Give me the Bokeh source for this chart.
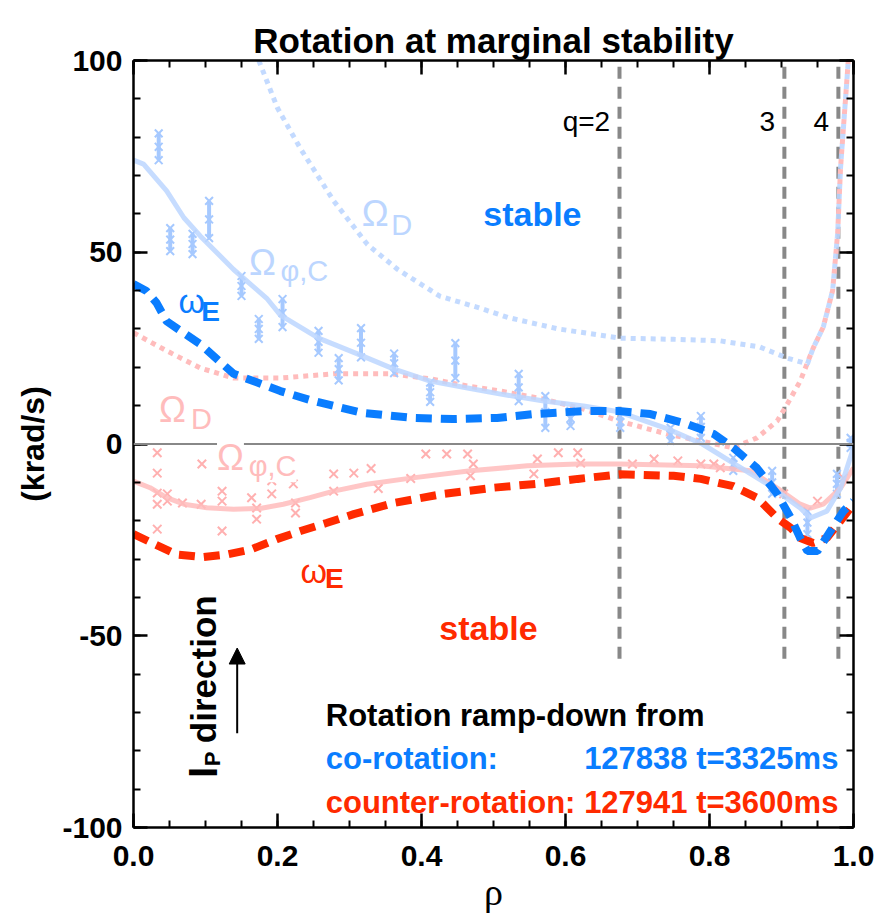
import math
from bokeh.plotting import figure
from bokeh.models import (Range1d, LinearAxis, SingleIntervalTicker, NumeralTickFormatter,
                          CustomJSTickFormatter, Label, Arrow, NormalHead, Span)
from bokeh.embed import file_html
from bokeh.resources import INLINE

# ---------------- data ----------------
# co-rotation (blue) curves
bD_rho = [0.174, 0.2, 0.232, 0.278, 0.325, 0.367, 0.426, 0.48, 0.52, 0.59, 0.676, 0.75, 0.815, 0.87, 0.908, 0.936,
          0.944, 0.958, 0.971, 0.978, 0.982, 0.992, 0.996]
bD_val = [100, 87.6, 77, 63.4, 52, 45.5, 38.5, 35.5, 33, 30, 27.6, 27.3, 26.9, 25.3, 22.4, 20.9,
          25, 30.5, 40, 55, 72, 98, 110]

bC_rho = [0, 0.014, 0.046, 0.07, 0.093, 0.139, 0.185, 0.204, 0.257, 0.311, 0.361, 0.412, 0.464, 0.51, 0.57,
          0.625, 0.674, 0.741, 0.79, 0.833, 0.88, 0.926, 0.94, 0.963, 0.982, 1.0]
bC_val = [74, 73, 66, 59, 54.2, 45.5, 38, 33.6, 27.6, 23.5, 19.6, 16.4, 14.6, 13, 11.2,
          9.9, 8.4, 4, 0, -5, -10.4, -16.7, -19.3, -17.5, -11.5, -1]

bE_rho = [0, 0.018, 0.032, 0.046, 0.093, 0.139, 0.204, 0.25, 0.319, 0.389, 0.444, 0.505, 0.556, 0.625, 0.674,
          0.718, 0.764, 0.806, 0.833, 0.866, 0.894, 0.913, 0.926, 0.936, 0.95, 0.968, 0.986, 1.0]
bE_val = [41.7, 39.9, 36.8, 32, 26, 18.3, 13.8, 11.2, 8.1, 6.8, 6.5, 6.8, 7.8, 8.6, 8.6,
          7.8, 5.5, 2.6, -1, -6.3, -13, -19.3, -24.5, -27.9, -27.9, -22.7, -17.5, -14.9]

# counter-rotation (red) curves
rD_rho = [0, 0.046, 0.093, 0.139, 0.185, 0.204, 0.278, 0.357, 0.412, 0.464, 0.51, 0.57, 0.625, 0.674, 0.741,
          0.787, 0.833, 0.866, 0.894, 0.908, 0.926, 0.944, 0.958, 0.971, 0.978, 0.982, 0.992, 0.996]
rD_val = [29, 24.3, 19.8, 17.2, 17.2, 17.2, 18.3, 18.3, 17, 15.1, 13.8, 11.7, 9.1, 6, 2.6,
          0.8, -1, 1.6, 6, 10.4, 16.4, 25, 30.5, 40, 55, 72, 98, 110]

rC_rho = [0, 0.023, 0.046, 0.07, 0.102, 0.139, 0.176, 0.208, 0.245, 0.278, 0.324, 0.385, 0.468, 0.547, 0.617,
          0.676, 0.788, 0.815, 0.857, 0.894, 0.926, 0.94, 0.958, 0.982, 1.0]
rC_val = [-9.7, -11.4, -14, -15.7, -16.6, -17, -16.8, -15.7, -14, -12.3, -10.5, -8.9, -7, -5.7, -5.2,
          -5.2, -5.7, -6.2, -7, -11.5, -15.7, -16.7, -15.7, -11.5, -6.2]

rE_rho = [0, 0.028, 0.06, 0.097, 0.13, 0.163, 0.199, 0.232, 0.268, 0.306, 0.361, 0.431, 0.5, 0.57, 0.617,
          0.676, 0.75, 0.788, 0.833, 0.866, 0.894, 0.913, 0.926, 0.944, 0.963, 0.982, 1.0]
rE_val = [-23.5, -26, -28.8, -29.5, -28.8, -27.5, -24.8, -22.7, -20.6, -18.3, -15.4, -13, -11.4, -10.2, -9.1,
          -7.9, -8.3, -9.1, -11, -14, -19.3, -21.9, -24.5, -25.8, -24.5, -20, -15.7]

# measured points
bP_rho = [0.035, 0.051, 0.082, 0.105, 0.15, 0.174, 0.207, 0.257, 0.285, 0.316, 0.362, 0.412, 0.447, 0.535,
          0.572, 0.607, 0.676, 0.746, 0.788, 0.833, 0.887, 0.936, 0.977, 0.996]
bP_lo = [74, 50.3, 49.5, 53.7, 38.6, 27.4, 30.5, 23.8, 16.6, 22.6, 18.5, 11, 17.2, 11.2,
         4.2, 4.7, 4.2, 0.8, 1.6, -7, -13, -23.5, -13, -1]
bP_hi = [81, 56.3, 54.8, 63.4, 43.8, 32.6, 37.8, 29.5, 22.4, 30.2, 23.6, 16, 26.3, 18.3,
         12.5, 8.6, 7.3, 4.2, 7.3, -3.6, -7, -17.5, -7.8, 1.6]

rP_rho = [0.033, 0.033, 0.033, 0.033, 0.033, 0.047, 0.047, 0.068, 0.095, 0.094, 0.123, 0.123, 0.123,
          0.164, 0.171, 0.171, 0.192, 0.192, 0.222, 0.225, 0.225, 0.278, 0.278, 0.306, 0.33, 0.34,
          0.385, 0.406, 0.435, 0.464, 0.472, 0.468, 0.561, 0.556, 0.59, 0.617, 0.621, 0.693, 0.723,
          0.756, 0.788, 0.806, 0.815, 0.903, 0.95, 0.986]
rP_val = [-2.3, -7.6, -12.8, -15.7, -22.2, -13, -14.9, -15.4, -5.2, -15.7, -12.3, -14.9, -22.7,
          -14, -16.7, -19.6, -9.6, -13, -10.4, -15.4, -18, -7.8, -12.3, -7.6, -6.4, -11.6,
          -9, -2.6, -2.6, -2.6, -5.2, -8.3, -3.9, -7.8, -2.3, -2.3, -5, -5.2, -3.9,
          -4.4, -5.2, -5.2, -6.2, -13, -14.9, -8.9]

# rational surfaces
q_rho = [0.675, 0.904, 0.979]
q_labels = ["q=2", "3", "4"]
q_bottom = -56

# ---------------- styles ----------------
LB = "#bcd6ff"   # light blue
LBM = "#a6c9ff"
BB = "#0a7dff"   # bold blue
LR = "#ffbcbc"   # light red
LRM = "#ffb0b0"
BR = "#ff2a00"   # bold red
GR = "#888888"
FONT = "Liberation Sans"

p = figure(width=878, height=918, output_backend="svg", toolbar_location=None,
           x_range=Range1d(0, 1), y_range=Range1d(-100, 100),
           min_border_left=133, min_border_right=25, min_border_top=60, min_border_bottom=91,
           x_axis_label="ρ", y_axis_label="(krad/s)", title="Rotation at marginal stability")
p.grid.visible = False
p.outline_line_color = None
p.background_fill_color = "white"
p.border_fill_color = "white"

p.title.text_font = FONT
p.title.text_font_size = "35px"
p.title.text_font_style = "bold"
p.title.text_color = "black"
p.title.align = "center"
p.title.standoff = 2

p.xaxis.ticker = SingleIntervalTicker(interval=0.2, num_minor_ticks=4)
p.yaxis.ticker = SingleIntervalTicker(interval=50, num_minor_ticks=5)
p.xaxis.formatter = NumeralTickFormatter(format="0.0")
p.yaxis.formatter = CustomJSTickFormatter(code="return tick < 0 ? '-' + Math.abs(tick) : '' + tick;")

def style_axis(ax, labels=True):
    ax.axis_line_color = "black"
    ax.axis_line_width = 2.5
    ax.major_tick_in = 14
    ax.major_tick_out = 0
    ax.minor_tick_in = 7
    ax.minor_tick_out = 0
    ax.major_tick_line_width = 2.5
    ax.minor_tick_line_width = 2
    ax.major_tick_line_color = "black"
    ax.minor_tick_line_color = "black"
    ax.major_label_text_font = FONT
    ax.major_label_text_font_size = "30px"
    ax.major_label_text_font_style = "bold"
    ax.major_label_text_color = "black"
    ax.axis_label_text_color = "black"
    if not labels:
        ax.formatter = CustomJSTickFormatter(code="return '';")
        ax.major_label_standoff = 0

for ax in p.xaxis + p.yaxis:
    style_axis(ax)
p.xaxis.major_label_standoff = 18
p.yaxis.major_label_standoff = 11
p.xaxis.axis_label_text_font = "Liberation Serif"
p.xaxis.axis_label_text_font_size = "38px"
p.xaxis.axis_label_text_font_style = "normal"
p.xaxis.axis_label_standoff = 2
p.yaxis.axis_label_text_font = FONT
p.yaxis.axis_label_text_font_size = "32px"
p.yaxis.axis_label_text_font_style = "bold"
p.yaxis.axis_label_standoff = 8

ax_top = LinearAxis(ticker=SingleIntervalTicker(interval=0.2, num_minor_ticks=4))
ax_right = LinearAxis(ticker=SingleIntervalTicker(interval=50, num_minor_ticks=5))
style_axis(ax_top, labels=False)
style_axis(ax_right, labels=False)
p.add_layout(ax_top, "above")
p.add_layout(ax_right, "right")

# zero line
p.add_layout(Span(location=0, dimension="width", line_color=GR, line_width=2))

# rational surface lines
p.segment(x0=q_rho, y0=[q_bottom] * 3, x1=q_rho, y1=[100] * 3,
          line_color=GR, line_width=4, line_dash="12 8")

# dotted Omega_D curves
p.line(rD_rho, rD_val, line_color=LR, line_width=5, line_dash="5 5")
p.line(bD_rho, bD_val, line_color=LB, line_width=5, line_dash="5 5", line_alpha=0.9)

# measured points
p.scatter(rP_rho, rP_val, marker="x", size=12, line_color=LRM, line_width=2)
p.segment(x0=bP_rho, y0=bP_lo, x1=bP_rho, y1=bP_hi, line_color=LBM, line_width=4)
bP_mid = [(a + b) / 2 for a, b in zip(bP_lo, bP_hi)]
p.scatter(bP_rho + bP_rho + bP_rho, bP_lo + bP_hi + bP_mid, marker="x", size=11, line_color=LBM, line_width=2)

# solid Omega_phi,C fits
p.line(rC_rho, rC_val, line_color=LR, line_width=5, line_alpha=0.85)
p.line(bC_rho, bC_val, line_color=LB, line_width=5, line_alpha=0.85)

# dashed omega_E
p.line(rE_rho, rE_val, line_color=BR, line_width=8, line_dash="16 9")
p.line(bE_rho, bE_val, line_color=BB, line_width=8, line_dash="16 9")

def lab(x, y, text, color, size, style="normal", align="left", font=FONT, bg=None, angle=0.0):
    l = Label(x=x, y=y, text=text, text_color=color, text_font_size=size, text_font_style=style,
              text_align=align, text_baseline="alphabetic", text_font=font, angle=angle)
    if bg:
        l.background_fill_color = bg
    p.add_layout(l)

# q labels
for r, t in zip(q_rho, q_labels):
    lab(r - 0.013, 84.2, t, "black", "28px", align="right")

# curve labels (blue)
lab(0.317, 60, "Ω", LB, "36px")
lab(0.358, 57.2, "D", LB, "29px")
lab(0.1605, 47.2, "Ω", LB, "36px")
lab(0.204, 45.0, "φ,C", LB, "29px")
lab(0.0625, 37.3, "ω", BB, "34px")
lab(0.094, 34.5, "E", BB, "28px", style="bold")
lab(0.554, 60, "stable", BB, "34px", style="bold", align="center")

# curve labels (red)
lab(0.0355, 9.0, "Ω", LR, "36px")
lab(0.08, 6.6, "D", LR, "29px")
lab(0.116, -3.6, "Ω", LR, "36px", bg="white")
lab(0.16, -5.8, "φ,C", LR, "29px", bg="white")
lab(0.232, -33.1, "ω", BR, "34px")
lab(0.266, -35.2, "E", BR, "28px", style="bold")
lab(0.493, -48, "stable", BR, "34px", style="bold", align="center")

# legend text
lab(0.267, -70.9, "Rotation ramp-down from", "black", "31px", style="bold")
lab(0.267, -81.9, "co-rotation:", BB, "31px", style="bold")
lab(0.979, -81.9, "127838 t=3325ms", BB, "31px", style="bold", align="right")
lab(0.267, -93.6, "counter-rotation:", BR, "31px", style="bold")
lab(0.979, -93.6, "127941 t=3600ms", BR, "31px", style="bold", align="right")

# Ip direction
lab(0.0972, -87.1, "I", "black", "40px", style="bold", angle=math.pi / 2)
lab(0.1097, -84.0, "P", "black", "22px", style="bold", angle=math.pi / 2)
lab(0.0972, -78.0, "direction", "black", "35px", style="bold", angle=math.pi / 2)
p.add_layout(Arrow(end=NormalHead(size=16, fill_color="black", line_color="black"),
                   x_start=0.144, y_start=-75.4, x_end=0.144, y_end=-53.2,
                   line_color="black", line_width=2))

open("out.html", "w").write(file_html(p, INLINE))
